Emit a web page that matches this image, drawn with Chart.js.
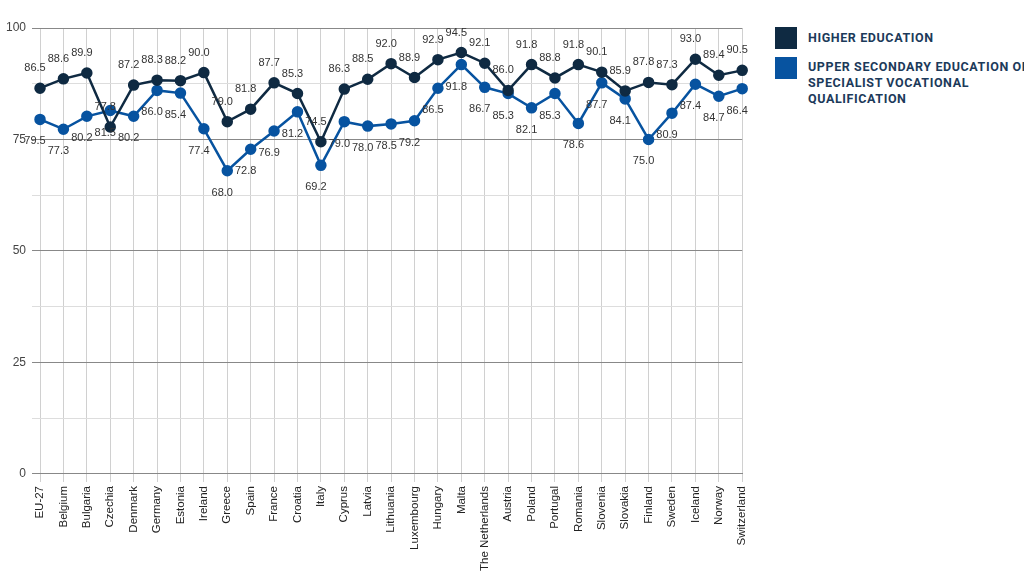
<!DOCTYPE html>
<html><head><meta charset="utf-8">
<script src="https://cdn.jsdelivr.net/npm/chart.js@4"></script>
<style>
body{margin:0;background:#fff;font-family:"Liberation Sans",Arial,sans-serif}
#wrap{position:absolute;left:0;top:0;width:760px;height:575px}
.leg{position:absolute;left:775px;font-family:"Roboto","Liberation Sans",sans-serif;font-weight:bold;font-size:12.5px;color:#1c3a5a;letter-spacing:0.6px;line-height:16px}
.sw{position:absolute;left:0;top:0;width:22px;height:22px}
.tx{position:absolute;left:33px;width:240px}
</style></head><body>
<div id="wrap"><canvas id="c" width="760" height="575"></canvas></div>
<div class="leg" style="top:27px"><div class="sw" style="background:#0f2a42"></div><div class="tx" style="top:3px">HIGHER EDUCATION</div></div>
<div class="leg" style="top:57px"><div class="sw" style="background:#0753a0"></div><div class="tx" style="top:2px">UPPER SECONDARY EDUCATION OR SPECIALIST VOCATIONAL QUALIFICATION</div></div>
<script>
const categories=["EU-27","Belgium","Bulgaria","Czechia","Denmark","Germany","Estonia","Ireland","Greece","Spain","France","Croatia","Italy","Cyprus","Latvia","Lithuania","Luxembourg","Hungary","Malta","The Netherlands","Austria","Poland","Portugal","Romania","Slovenia","Slovakia","Finland","Sweden","Iceland","Norway","Switzerland"];
const higher=[86.5,88.6,89.9,77.8,87.2,88.3,88.2,90.0,79.0,81.8,87.7,85.3,74.5,86.3,88.5,92.0,88.9,92.9,94.5,92.1,86.0,91.8,88.8,91.8,90.1,85.9,87.8,87.3,93.0,89.4,90.5];
const upper=[79.5,77.3,80.2,81.5,80.2,86.0,85.4,77.4,68.0,72.8,76.9,81.2,69.2,79.0,78.0,78.5,79.2,86.5,91.8,86.7,85.3,82.1,85.3,78.6,87.7,84.1,75.0,80.9,87.4,84.7,86.4];
const yTicks=[0,25,50,75,100];
const labelsPlugin={id:'lbl',afterDatasetsDraw(ch){const c=ch.ctx;c.save();c.font='11px "Liberation Sans",Arial';c.fillStyle='#333';c.textAlign='center';
ch.data.datasets.forEach((ds,i)=>{ch.getDatasetMeta(i).data.forEach((p,j)=>{c.fillText(ds.data[j].toFixed(1),p.x-5,i==0?p.y-17:p.y+25);});});c.restore();}};
new Chart(document.getElementById('c'),{type:'line',
data:{labels:categories,datasets:[
{data:higher,borderColor:'#0f2a42',backgroundColor:'#0f2a42',borderWidth:2.5,pointRadius:4.5,tension:0},
{data:upper,borderColor:'#0753a0',backgroundColor:'#0753a0',borderWidth:2.5,pointRadius:4.5,tension:0}]},
options:{responsive:false,animation:false,layout:{padding:{top:28,right:14,left:0}},
plugins:{legend:{display:false},tooltip:{enabled:false}},
scales:{x:{offset:false,grid:{color:'#d0d0d0'},border:{color:'#888'},ticks:{maxRotation:90,minRotation:90,color:'#222',font:{size:11.5,family:'"Liberation Sans",Arial'},padding:4}},
y:{min:0,max:100,afterBuildTicks(ax){const t=[];for(let v=0;v<=100;v+=12.5)t.push({value:v});ax.ticks=t;},
grid:{color:c=>c.tick&&c.tick.value%25===0?'#888':'#ddd'},border:{display:false},
ticks:{color:'#444',font:{size:12},callback:v=>yTicks.includes(v)?String(v):'',padding:6}}}},
plugins:[labelsPlugin]});
// rotate y tick labels via custom draw not needed
</script></body></html>
